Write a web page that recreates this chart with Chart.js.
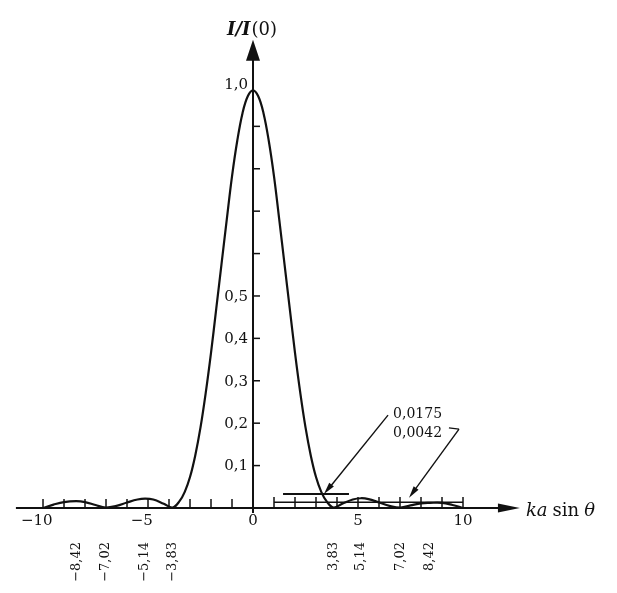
<!DOCTYPE html>
<html>
<head>
<meta charset="utf-8">
<title>I/I(0)</title>
<script src="https://cdn.jsdelivr.net/npm/chart.js@4.4.1/dist/chart.umd.min.js"></script>
<style>
  html, body { margin: 0; padding: 0; background: #fff; }
  canvas { display: block; }
</style>
</head>
<body>
<canvas id="airy" width="617" height="593"></canvas>
<script>
// values: ka sin(theta) and I/I(0)
const kaSinTheta = [
  -10, -9.5, -9, -8.42, -8, -7.5, -7.02, -6.5, -6, -5.5, -5.14, -4.75, -4.25, -3.83,
  -3.5, -3.25, -3, -2.75, -2.5, -2.25, -2, -1.75, -1.5, -1.25, -1, -0.75, -0.5, -0.25,
  0,
  0.25, 0.5, 0.75, 1, 1.25, 1.5, 1.75, 2, 2.25, 2.5, 2.75, 3, 3.25, 3.5,
  3.83, 4.25, 4.75, 5.14, 5.5, 6, 6.5, 7.02, 7.5, 8, 8.42, 9, 9.5, 10
];
const intensity = [
  0, 0.008, 0.014, 0.016, 0.014, 0.007, 0.001, 0.005, 0.013, 0.02, 0.022, 0.02, 0.01, 0.001,
  0.016, 0.038, 0.073, 0.124, 0.19, 0.272, 0.366, 0.47, 0.575, 0.68, 0.782, 0.866, 0.931, 0.971,
  0.985,
  0.971, 0.931, 0.866, 0.782, 0.68, 0.575, 0.47, 0.366, 0.272, 0.19, 0.124, 0.073, 0.038, 0.016,
  0.001, 0.01, 0.02, 0.023, 0.021, 0.013, 0.005, 0.001, 0.006, 0.011, 0.012, 0.012, 0.007, 0
];

const xMinorTicks = [-10, -9, -8, -7, -6, -5, -4, -3, -2, -1, 1, 2, 3, 4, 5, 6, 7, 8, 9, 10];
const xTickValues = [-10, -5, 0, 5, 10];
const xTickLabels = ['\u221210', '\u22125', '0', '5', '10'];
const yMinorTicks = [0.1, 0.2, 0.3, 0.4, 0.5, 0.6, 0.7, 0.8, 0.9];
const yTickValues = [0.1, 0.2, 0.3, 0.4, 0.5, 1.0];
const yTickLabels = ['0,1', '0,2', '0,3', '0,4', '0,5', '1,0'];
const extremaValues = [-8.42, -7.02, -5.14, -3.83, 3.83, 5.14, 7.02, 8.42];
const extremaLabels = ['\u22128,42', '\u22127,02', '\u22125,14', '\u22123,83', '3,83', '5,14', '7,02', '8,42'];

// the marked side-maximum level and the magnified base line on the right
const sideMaxSpan = [1.43, 4.57];
const sideMaxLevel = [0.033, 0.033];
const magnifiedSpan = [1, 10];
const magnifiedLevel = [0.0134, 0.0134];
const noteTexts = ['0,0175', '0,0042'];

const ink = '#111';
const serif = '"DejaVu Serif", "Liberation Serif", serif';

function drawArrowHead(ctx, x0, y0, x1, y1, len, half) {
  const a = Math.atan2(y1 - y0, x1 - x0);
  ctx.beginPath();
  ctx.moveTo(x1, y1);
  ctx.lineTo(x1 - len * Math.cos(a) + half * Math.sin(a), y1 - len * Math.sin(a) - half * Math.cos(a));
  ctx.lineTo(x1 - len * Math.cos(a) - half * Math.sin(a), y1 - len * Math.sin(a) + half * Math.cos(a));
  ctx.closePath();
  ctx.fill();
}

function segment(ctx, x0, y0, x1, y1) {
  ctx.beginPath();
  ctx.moveTo(x0, y0);
  ctx.lineTo(x1, y1);
  ctx.stroke();
}

const axesPlugin = {
  id: 'bookAxes',
  afterDatasetsDraw(chart) {
    const { ctx, scales: { x, y } } = chart;
    const X = v => x.getPixelForValue(v);
    const Y = v => y.getPixelForValue(v);
    const x0 = X(0), y0 = Y(0);
    ctx.save();
    ctx.strokeStyle = ink;
    ctx.fillStyle = ink;
    ctx.lineCap = 'butt';

    // axes with arrows
    ctx.lineWidth = 2;
    const xEnd = X(12.71);
    segment(ctx, X(-11.29), y0, xEnd - 12, y0);
    drawArrowHead(ctx, X(-11.29), y0, xEnd, y0, 22, 4.5);
    const yEnd = Y(1.104);
    segment(ctx, x0, Y(-0.012), x0, yEnd + 12);
    drawArrowHead(ctx, x0, Y(-0.012), x0, yEnd, 21, 7);

    // small ticks
    ctx.lineWidth = 1.5;
    xMinorTicks.forEach(v => {
      const h = v < 0 ? 9 : 11;
      segment(ctx, X(v), y0, X(v), y0 - h);
    });
    yMinorTicks.forEach(v => segment(ctx, x0, Y(v), x0 + 7, Y(v)));

    // tick labels
    ctx.font = '15px ' + serif;
    ctx.textBaseline = 'top';
    ctx.textAlign = 'right';
    xTickValues.forEach((v, i) => {
      const digits = xTickLabels[i].replace('\u2212', '');
      const w = ctx.measureText(digits).width;
      ctx.fillText(xTickLabels[i], X(v) + w / 2, y0 + 6);
    });
    ctx.font = '15px ' + serif;
    ctx.textBaseline = 'middle';
    yTickValues.forEach((v, i) => ctx.fillText(yTickLabels[i], x0 - 5, Y(v) + 1));

    // rotated labels of zeros and side maxima
    ctx.font = '13px ' + serif;
    extremaValues.forEach((v, i) => {
      ctx.save();
      ctx.translate(X(v), y0 + 34);
      ctx.rotate(-Math.PI / 2);
      ctx.textAlign = 'right';
      ctx.textBaseline = 'middle';
      ctx.fillText(extremaLabels[i], 0, 0);
      ctx.restore();
    });

    // axis titles
    ctx.textAlign = 'left';
    ctx.textBaseline = 'alphabetic';
    let tx = x0 - 26;
    const ty = yEnd - 5;
    ctx.font = 'italic bold 18px ' + serif;
    ctx.fillText('I/I', tx, ty);
    tx += ctx.measureText('I/I').width + 1;
    ctx.font = '18px ' + serif;
    ctx.fillText('(0)', tx, ty);

    tx = xEnd + 6;
    const by = y0 + 8;
    ctx.font = 'italic 18px ' + serif;
    ctx.fillText('ka', tx, by);
    tx += ctx.measureText('ka').width + 5;
    ctx.font = '18px ' + serif;
    ctx.fillText('sin', tx, by);
    tx += ctx.measureText('sin').width + 5;
    ctx.font = 'italic 18px ' + serif;
    ctx.fillText('\u03b8', tx, by);

    // notes with arrows
    ctx.font = '14px ' + serif;
    ctx.fillText(noteTexts[0], X(6.67), Y(0.212));
    ctx.fillText(noteTexts[1], X(6.67), Y(0.167));
    ctx.lineWidth = 1.4;
    segment(ctx, X(6.43), Y(0.219), X(3.38) + 6, Y(0.033) - 7);
    drawArrowHead(ctx, X(6.43), Y(0.219), X(3.38), Y(0.033), 12, 3);
    segment(ctx, X(9.33), Y(0.189), X(9.81), Y(0.186));
    segment(ctx, X(9.81), Y(0.186), X(7.43) + 5, Y(0.024) - 7);
    drawArrowHead(ctx, X(9.81), Y(0.186), X(7.43), Y(0.024), 12, 3);

    ctx.restore();
  }
};

new Chart(document.getElementById('airy'), {
  type: 'scatter',
  data: {
    datasets: [
      {
        data: kaSinTheta.map((v, i) => ({ x: v, y: intensity[i] })),
        showLine: true,
        borderColor: ink,
        borderWidth: 2.2,
        pointRadius: 0,
        tension: 0.4
      },
      {
        data: sideMaxSpan.map((v, i) => ({ x: v, y: sideMaxLevel[i] })),
        showLine: true,
        borderColor: ink,
        borderWidth: 1.8,
        pointRadius: 0
      },
      {
        data: magnifiedSpan.map((v, i) => ({ x: v, y: magnifiedLevel[i] })),
        showLine: true,
        borderColor: ink,
        borderWidth: 1.5,
        pointRadius: 0
      }
    ]
  },
  options: {
    responsive: false,
    animation: false,
    layout: { padding: 0 },
    plugins: { legend: { display: false }, tooltip: { enabled: false } },
    scales: {
      x: { type: 'linear', min: -12.048, max: 17.333, display: false },
      y: { type: 'linear', min: -0.2005, max: 1.198, display: false }
    }
  },
  plugins: [axesPlugin]
});
</script>
</body>
</html>
